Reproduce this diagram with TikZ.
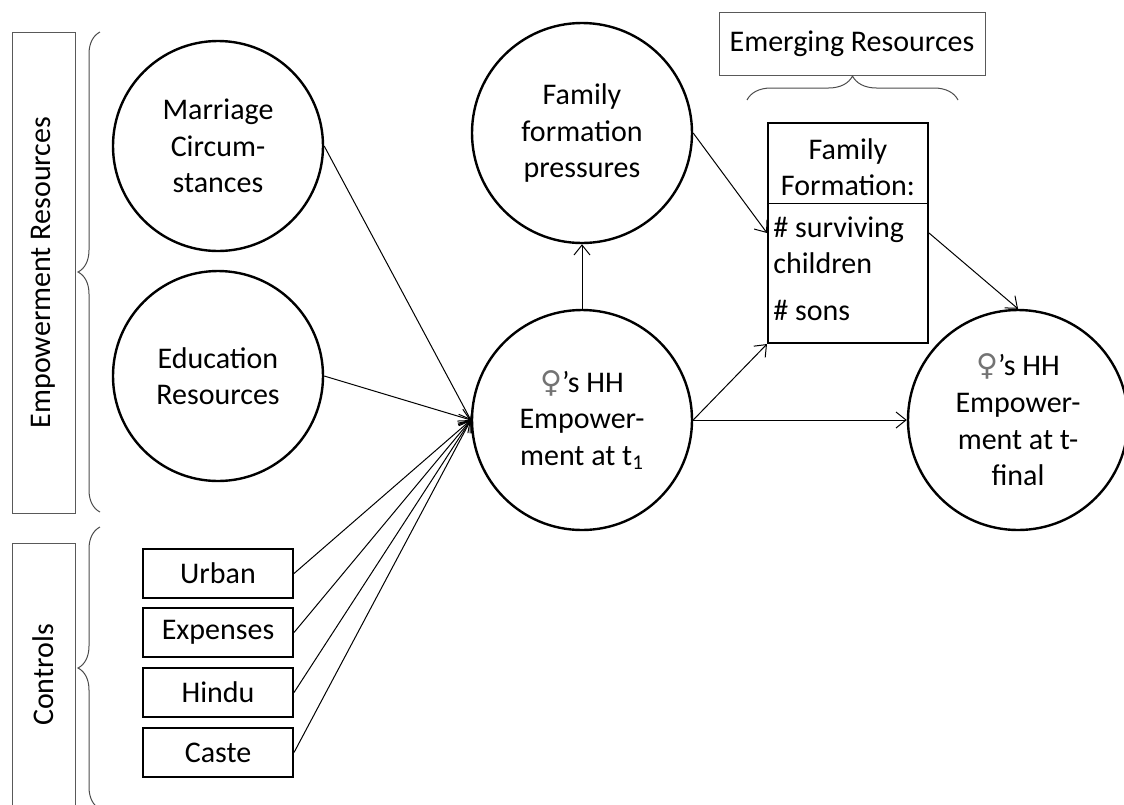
\documentclass[tikz,border=0pt]{standalone}
\usepackage{fontspec}
\setmainfont{Carlito}
\newfontfamily\symfont{DejaVu Sans}
\usetikzlibrary{arrows.meta,decorations.pathreplacing}
\newcommand{\fem}{{\symfont\color{black!55}\char"2640}}

\begin{document}
\begin{tikzpicture}[x=0.5pt,y=-0.5pt,
    every node/.style={font=\fontsize{15}{18.3}\selectfont},
    circ/.style={circle,draw,line width=1.2pt,minimum size=105pt,inner sep=0pt,align=center},
    ctrl/.style={rectangle,draw,line width=1pt,minimum width=75pt,minimum height=24.5pt,inner sep=0pt},
    grp/.style={rectangle,draw=black!65,line width=0.5pt,inner sep=0pt},
    arr/.style={-{Straight Barb[length=5pt,width=8pt]},line width=0.5pt},
    brc/.style={decorate,decoration={brace,amplitude=11pt},line width=0.5pt,draw=black!70}]
        \useasboundingbox (0,0) rectangle (1124,804);
        % group labels
        \node[grp,rotate=90,minimum width=240.5pt,minimum height=31.5pt] (ER) at (43.5,272.5) {Empowerment Resources};
        \node[grp,rotate=90,minimum width=132pt,minimum height=31.5pt] (CT) at (43.5,675) {Controls};
        \node[grp,minimum width=133pt,minimum height=31.5pt] (EM) at (852,43.5) {Emerging Resources};
        \draw[brc] (100,512) -- (100,32);
        \draw[brc] (100,809) -- (100,527);
        \draw[brc,decoration={amplitude=12pt}] (747,100) -- (958,100);
        % circles
        \node[circ] (Mar) at (218,146) {Marriage\\Circum-\\stances};
        \node[circ] (Edu) at (218,376) {Education\\Resources};
        \node[circ,minimum size=110pt] (Pres) at (582,133) {Family\\formation\\pressures};
        \node[circ,minimum size=110pt] (E1) at (582,420) {\fem’s HH\\Empower-\\ment at t\textsubscript{1}};
        \node[circ,minimum size=110pt] (Ef) at (1018,420) {\fem’s HH\\Empower-\\ment at t-\\final};
        % controls
        \node[ctrl] (Urb) at (218,573.5) {Urban};
        \node[ctrl] (Exp) at (218,632.5) {Expenses};
        \node[ctrl] (Hin) at (218,692.5) {Hindu};
        \node[ctrl] (Cas) at (218,752.5) {Caste};
        % family formation box
        \node[rectangle,draw,line width=1pt,minimum width=80pt,minimum height=110pt,inner sep=0pt] (FF) at (848,233) {};
        \draw[line width=0.5pt] (FF.west |- 0,203) -- (FF.east |- 0,203);
        \node[align=center] (FFh) at (848,167) {Family\\Formation:};
        \node[anchor=north west,align=left,inner sep=0pt] (FFb) at (773,216) {\# surviving\\children\\[5pt]\# sons};
        % arrows
        \draw[arr] (Mar.east) -- (E1.west);
        \draw[arr] (Edu.east) -- (E1.west);
        \foreach \c in {Urb,Exp,Hin,Cas}
            \draw[arr] (\c.east) -- (E1.west);
        \draw[arr] (E1.north) -- (Pres.south);
        \draw[arr] (Pres.east) -- (FF.west);
        \draw[arr] (E1.east) -- (FF.south west);
        \draw[arr] (E1.east) -- (Ef.west);
        \draw[arr] (FF.east) -- (Ef.north);
\end{tikzpicture}
\end{document}
